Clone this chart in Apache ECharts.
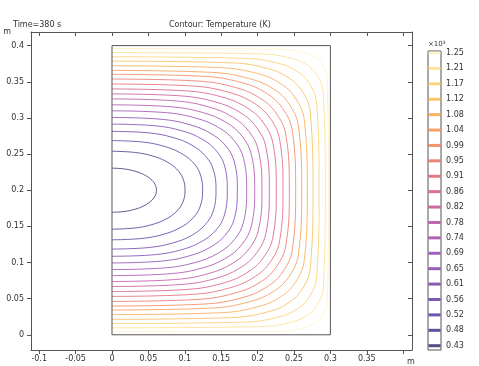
<!DOCTYPE html>
<html><head><meta charset="utf-8">
<script src="https://cdn.jsdelivr.net/npm/echarts@6/dist/echarts.min.js"></script>
<style>html,body{margin:0;padding:0;background:#fff}#c{width:479px;height:366px}</style>
</head><body><div id="c"></div>
<script>
// Contour levels (K), lowest to highest
const levelsK = [433.5,476.6,519.7,562.8,605.9,649.0,692.1,735.2,778.3,821.4,864.5,907.6,950.7,993.8,1036.9,1080.0,1123.1,1166.2,1209.3,1252.4];
const levelColors = ['#2d1b6b','#3b2386','#4a2a99','#5a2fa3','#6b33a8','#7c36a9','#8d39a7','#9f3ba2','#b13e97','#c24289','#d14a79','#de5568','#e96456','#f27646','#f78a3c','#f9a03c','#fab646','#fbcb5c','#fcdd82','#fdf0c4'];
// Contour polylines [x (m), y (m)], lowest level first
const contourPts = [
 [[0,.2305],[.0163,.2295],[.031,.2265],[.0435,.2217],[.053,.2155],[.059,.2082],[.061,.2],[.059,.1918],[.053,.1845],[.0435,.1783],[.031,.1735],[.0163,.1705],[0,.1695]],
 [[0,.2539],[.031,.2523],[.0549,.2476],[.0742,.2399],[.0885,.2295],[.0973,.2166],[.1003,.2],[.0973,.1834],[.0885,.1705],[.0742,.1601],[.0549,.1524],[.031,.1477],[0,.1461]],
 [[0,.2686],[.0413,.2667],[.0707,.261],[.0938,.2517],[.1107,.239],[.121,.2228],[.1245,.2],[.121,.1772],[.1107,.161],[.0938,.1483],[.0707,.139],[.0413,.1333],[0,.1314]],
 [[0,.2814],[.0505,.2793],[.0838,.2729],[.1095,.2624],[.1279,.2478],[.1391,.2288],[.1429,.2],[.1391,.1712],[.1279,.1522],[.1095,.1376],[.0838,.1271],[.0505,.1207],[0,.1186]],
 [[0,.2914],[.0593,.2891],[.0957,.2823],[.1231,.271],[.1427,.2552],[.1545,.2342],[.1584,.2],[.1545,.1658],[.1427,.1448],[.1231,.129],[.0957,.1177],[.0593,.1109],[0,.1086]],
 [[0,.3006],[.0667,.2982],[.1059,.2909],[.135,.2789],[.1557,.2619],[.1681,.239],[.1722,.2],[.1681,.161],[.1557,.1381],[.135,.1211],[.1059,.1091],[.0667,.1018],[0,.0994]],
 [[0,.3098],[.074,.3073],[.1156,.2996],[.1463,.2868],[.1678,.2686],[.1807,.2439],[.185,.2],[.1807,.1561],[.1678,.1314],[.1463,.1132],[.1156,.1004],[.074,.0927],[0,.0902]],
 [[0,.3181],[.0808,.3154],[.1244,.3075],[.1562,.2941],[.1784,.275],[.1916,.2487],[.196,.2],[.1916,.1513],[.1784,.125],[.1562,.1059],[.1244,.0925],[.0808,.0846],[0,.0819]],
 [[0,.3263],[.0873,.3235],[.1327,.3153],[.1653,.3013],[.188,.2813],[.2015,.2535],[.206,.2],[.2015,.1465],[.188,.1187],[.1653,.0987],[.1327,.0847],[.0873,.0765],[0,.0737]],
 [[0,.3332],[.0952,.3304],[.142,.3221],[.1751,.308],[.1981,.2875],[.2116,.2587],[.2161,.2],[.2116,.1413],[.1981,.1125],[.1751,.092],[.142,.0779],[.0952,.0696],[0,.0668]],
 [[0,.3401],[.1031,.3373],[.151,.3289],[.1846,.3146],[.2076,.2937],[.2212,.264],[.2257,.2],[.2212,.136],[.2076,.1063],[.1846,.0854],[.151,.0711],[.1031,.0627],[0,.0599]],
 [[0,.3469],[.1109,.3441],[.1598,.3356],[.1937,.3212],[.2169,.3],[.2304,.2693],[.2349,.2],[.2304,.1307],[.2169,.1],[.1937,.0788],[.1598,.0644],[.1109,.0559],[0,.0531]],
 [[0,.3538],[.1185,.351],[.1683,.3424],[.2025,.3279],[.2256,.3063],[.2391,.2748],[.2436,.2],[.2391,.1252],[.2256,.0937],[.2025,.0721],[.1683,.0576],[.1185,.049],[0,.0462]],
 [[0,.3602],[.1273,.3574],[.1776,.349],[.2117,.3344],[.2346,.3128],[.2479,.2808],[.2523,.2],[.2479,.1192],[.2346,.0872],[.2117,.0656],[.1776,.051],[.1273,.0426],[0,.0398]],
 [[0,.3657],[.1369,.363],[.1873,.3547],[.221,.3405],[.2434,.3191],[.2563,.287],[.2606,.2],[.2563,.113],[.2434,.0809],[.221,.0595],[.1873,.0453],[.1369,.037],[0,.0343]],
 [[0,.3721],[.1491,.3695],[.1985,.3617],[.2308,.348],[.252,.3273],[.2643,.2956],[.2683,.2],[.2643,.1044],[.252,.0727],[.2308,.052],[.1985,.0383],[.1491,.0305],[0,.0279]],
 [[0,.3786],[.1642,.3762],[.2115,.369],[.2416,.3563],[.2613,.3368],[.2725,.3062],[.2761,.2],[.2725,.0938],[.2613,.0632],[.2416,.0437],[.2115,.031],[.1642,.0238],[0,.0214]],
 [[0,.3845],[.1826,.3824],[.2267,.376],[.2539,.3647],[.2714,.347],[.2813,.3184],[.2845,.2],[.2813,.0816],[.2714,.053],[.2539,.0353],[.2267,.024],[.1826,.0176],[0,.0155]],
 [[0,.3904],[.2043,.3886],[.2436,.3832],[.2671,.3736],[.282,.3583],[.2903,.3328],[.293,.2],[.2903,.0672],[.282,.0417],[.2671,.0264],[.2436,.0168],[.2043,.0114],[0,.0096]],
 [[0,.396],[.2327,.3948],[.2623,.3909],[.2793,.384],[.2898,.3728],[.2956,.3533],[.2975,.2],[.2956,.0467],[.2898,.0272],[.2793,.016],[.2623,.0091],[.2327,.0052],[0,.004]]
];
const xTicks = [-0.1,-0.05,0,0.05,0.1,0.15,0.2,0.25,0.3,0.35,0.4];
const xLabels = [-0.1,-0.05,0,0.05,0.1,0.15,0.2,0.25,0.3,0.35];
const yTicks = [0,0.05,0.1,0.15,0.2,0.25,0.3,0.35,0.4];
const domainX = [0, 0.3];
const domainY = [0, 0.4];

const FONT = 'DejaVu Sans';
const xMin = -0.11126, xMax = 0.41209, yMin = -0.02103, yMax = 0.41883;
const frame = {lineStyle:{color:'#555', width:1}};

const series = [];
series.push({
  type:'line', xAxisIndex:0, yAxisIndex:0, silent:true, showSymbol:false, z:3,
  lineStyle:{color:'#555', width:1},
  data:[[domainX[0],domainY[0]],[domainX[1],domainY[0]],[domainX[1],domainY[1]],[domainX[0],domainY[1]],[domainX[0],domainY[0]]]
});
contourPts.forEach((pts, i) => {
  series.push({
    type:'line', xAxisIndex:0, yAxisIndex:0, silent:true, showSymbol:false, smooth:0.4, z:2,
    lineStyle:{color:levelColors[i], width:1, opacity:0.72},
    data:pts
  });
});
series.push({
  type:'scatter', xAxisIndex:2, yAxisIndex:2, silent:true, symbol:'rect', symbolSize:[12,3],
  data: levelsK.map((v,i) => ({value:[0.5, v], itemStyle:{color:levelColors[i]}}))
});

const chart = echarts.init(document.getElementById('c'), null, {renderer:'canvas'});
chart.setOption({
  animation:false,
  backgroundColor:'#fff',
  textStyle:{fontFamily:FONT},
  title:[
    {text:'Time=380 s', left:8, top:16, textStyle:{fontFamily:FONT, fontSize:8, fontWeight:'normal', color:'#333'}},
    {text:'Contour: Temperature (K)', left:164, top:16, textStyle:{fontFamily:FONT, fontSize:8, fontWeight:'normal', color:'#333'}}
  ],
  grid:[
    {left:31, top:32, width:381, height:320, show:false},
    {left:428, top:51, width:13, height:299, show:true, borderColor:'#555', borderWidth:1, backgroundColor:'#fff'}
  ],
  xAxis:[
    {type:'value', gridIndex:0, min:xMin, max:xMax, position:'bottom',
     name:'m', nameLocation:'end', nameGap:-5, nameTextStyle:{fontFamily:FONT, fontSize:8, color:'#333', verticalAlign:'top', padding:[8,0,0,0]},
     axisLine:{show:true, onZero:false, ...frame}, splitLine:{show:false},
     axisTick:{show:true, inside:false, length:4, customValues:xTicks, lineStyle:{color:'#555'}},
     axisLabel:{show:true, customValues:xLabels, margin:5, fontFamily:FONT, fontSize:8, color:'#333', formatter:v=>String(+v.toFixed(2))}},
    {type:'value', gridIndex:0, min:xMin, max:xMax, position:'top',
     axisLine:{show:true, onZero:false, ...frame}, splitLine:{show:false},
     axisTick:{show:true, inside:true, length:4, customValues:xTicks, lineStyle:{color:'#555'}},
     axisLabel:{show:false}},
    {type:'value', gridIndex:1, min:0, max:1, show:false}
  ],
  yAxis:[
    {type:'value', gridIndex:0, min:yMin, max:yMax, position:'left',
     name:'m', nameLocation:'end', nameGap:-4, nameTextStyle:{fontFamily:FONT, fontSize:8, color:'#333', align:'right', padding:[0,20,0,0]},
     axisLine:{show:true, onZero:false, ...frame}, splitLine:{show:false},
     axisTick:{show:true, inside:false, length:4, customValues:yTicks, lineStyle:{color:'#555'}},
     axisLabel:{show:true, customValues:yTicks, margin:7, fontFamily:FONT, fontSize:8, color:'#333', formatter:v=>String(+v.toFixed(2))}},
    {type:'value', gridIndex:0, min:yMin, max:yMax, position:'right',
     axisLine:{show:true, onZero:false, ...frame}, splitLine:{show:false},
     axisTick:{show:true, inside:true, length:4, customValues:yTicks, lineStyle:{color:'#555'}},
     axisLabel:{show:false}},
    {type:'value', gridIndex:1, min:421.5, max:1258.0, position:'right',
     name:'×10³', nameLocation:'end', nameGap:3, nameTextStyle:{fontFamily:FONT, fontSize:7, color:'#333', align:'left', padding:[0,0,0,0]},
     axisLine:{show:false}, axisTick:{show:false}, splitLine:{show:false},
     axisLabel:{show:true, customValues:levelsK, margin:5, fontFamily:FONT, fontSize:8, color:'#333', formatter:v=>(v/1000).toFixed(2)}}
  ],
  series
});
</script></body></html>
